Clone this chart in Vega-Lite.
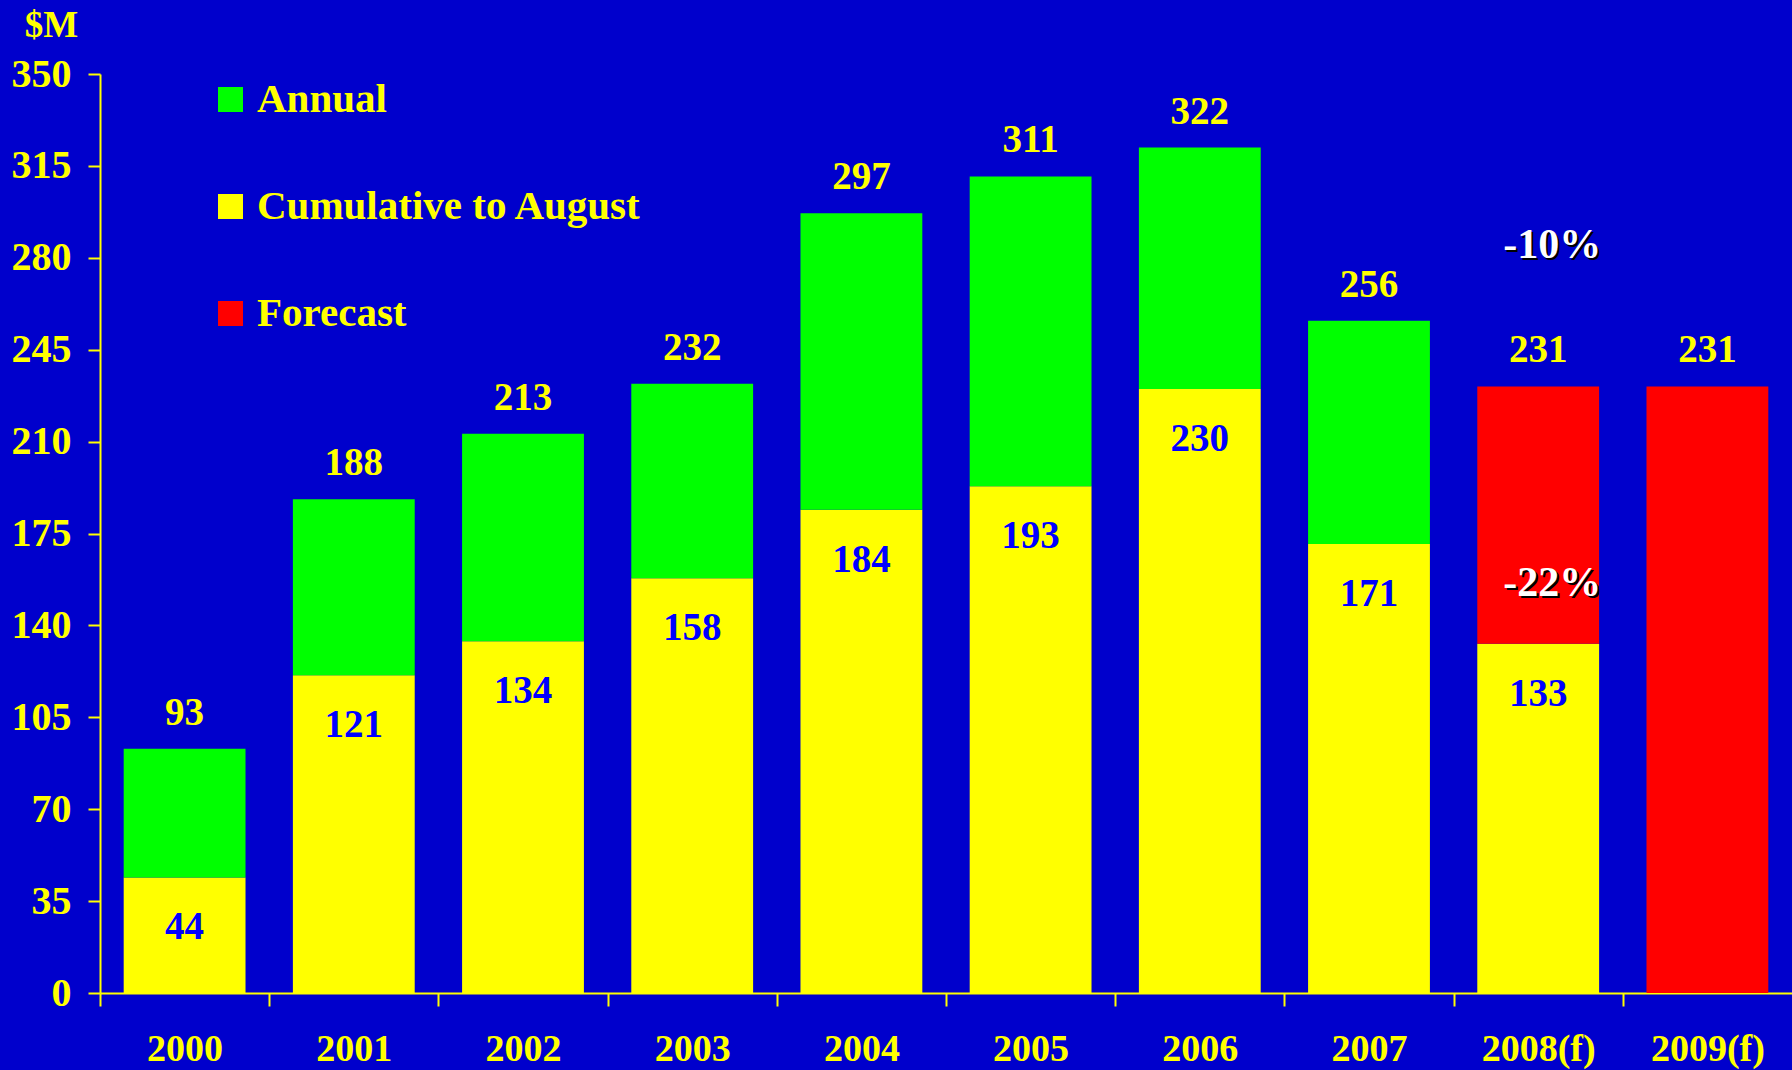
{
  "$schema": "https://vega.github.io/schema/vega-lite/v6.json",
  "width": 1692,
  "height": 919,
  "autosize": "none",
  "padding": {"left": 100, "top": 74, "right": 0, "bottom": 77},
  "background": "#0000CC",
  "config": {
    "view": {"stroke": null},
    "font": "Liberation Serif"
  },
  "datasets": {
    "bars": [
      {"year": "2000", "series": "Cumulative to August", "start": 0, "end": 44},
      {"year": "2000", "series": "Annual", "start": 44, "end": 93},
      {"year": "2001", "series": "Cumulative to August", "start": 0, "end": 121},
      {"year": "2001", "series": "Annual", "start": 121, "end": 188},
      {"year": "2002", "series": "Cumulative to August", "start": 0, "end": 134},
      {"year": "2002", "series": "Annual", "start": 134, "end": 213},
      {"year": "2003", "series": "Cumulative to August", "start": 0, "end": 158},
      {"year": "2003", "series": "Annual", "start": 158, "end": 232},
      {"year": "2004", "series": "Cumulative to August", "start": 0, "end": 184},
      {"year": "2004", "series": "Annual", "start": 184, "end": 297},
      {"year": "2005", "series": "Cumulative to August", "start": 0, "end": 193},
      {"year": "2005", "series": "Annual", "start": 193, "end": 311},
      {"year": "2006", "series": "Cumulative to August", "start": 0, "end": 230},
      {"year": "2006", "series": "Annual", "start": 230, "end": 322},
      {"year": "2007", "series": "Cumulative to August", "start": 0, "end": 171},
      {"year": "2007", "series": "Annual", "start": 171, "end": 256},
      {"year": "2008(f)", "series": "Cumulative to August", "start": 0, "end": 133},
      {"year": "2008(f)", "series": "Forecast", "start": 133, "end": 231},
      {"year": "2009(f)", "series": "Forecast", "start": 0, "end": 231}
    ],
    "totals": [
      {"year": "2000", "total": 93},
      {"year": "2001", "total": 188},
      {"year": "2002", "total": 213},
      {"year": "2003", "total": 232},
      {"year": "2004", "total": 297},
      {"year": "2005", "total": 311},
      {"year": "2006", "total": 322},
      {"year": "2007", "total": 256},
      {"year": "2008(f)", "total": 231},
      {"year": "2009(f)", "total": 231}
    ],
    "cum": [
      {"year": "2000", "value": 44},
      {"year": "2001", "value": 121},
      {"year": "2002", "value": 134},
      {"year": "2003", "value": 158},
      {"year": "2004", "value": 184},
      {"year": "2005", "value": 193},
      {"year": "2006", "value": 230},
      {"year": "2007", "value": 171},
      {"year": "2008(f)", "value": 133}
    ],
    "notes": [
      {"year": "2008(f)", "at": 285, "note": "-10%"},
      {"year": "2008(f)", "at": 156, "note": "-22%"}
    ]
  },
  "encoding": {
    "x": {
      "field": "year",
      "type": "nominal",
      "scale": {
        "domain": ["2000", "2001", "2002", "2003", "2004", "2005", "2006", "2007", "2008(f)", "2009(f)"],
        "paddingInner": 0.28,
        "paddingOuter": 0.14
      },
      "axis": {
        "title": null,
        "labelAngle": 0,
        "domainColor": "#FFFF00",
        "domainWidth": 2,
        "tickColor": "#FFFF00",
        "tickWidth": 2,
        "tickSize": 13,
        "tickOffset": -84.6,
        "labelOffset": 84.6,
        "labelColor": "#FFFF00",
        "labelFont": "Liberation Serif",
        "labelFontWeight": "bold",
        "labelFontSize": 38,
        "labelBaseline": "middle",
        "labelPadding": 43,
        "grid": false
      }
    }
  },
  "layer": [
    {
      "data": {"name": "bars"},
      "mark": {"type": "bar"},
      "encoding": {
        "y": {
          "field": "end",
          "type": "quantitative",
          "scale": {"domain": [0, 350], "nice": false},
          "axis": {
            "title": "$M",
            "titleAngle": 0,
            "titleX": -49,
            "titleY": -49,
            "titleAlign": "center",
            "titleBaseline": "middle",
            "titleColor": "#FFFF00",
            "titleFont": "Liberation Serif",
            "titleFontWeight": "bold",
            "titleFontSize": 37,
            "values": [0, 35, 70, 105, 140, 175, 210, 245, 280, 315, 350],
            "grid": false,
            "domainColor": "#FFFF00",
            "domainWidth": 2,
            "tickColor": "#FFFF00",
            "tickWidth": 2,
            "tickSize": 12,
            "labelColor": "#FFFF00",
            "labelFont": "Liberation Serif",
            "labelFontWeight": "bold",
            "labelFontSize": 40,
            "labelPadding": 17
          }
        },
        "y2": {"field": "start"},
        "color": {
          "field": "series",
          "type": "nominal",
          "scale": {
            "domain": ["Annual", "Cumulative to August", "Forecast"],
            "range": ["#00FF00", "#FFFF00", "#FF0000"]
          },
          "legend": {
            "title": null,
            "orient": "none",
            "legendX": 110,
            "legendY": 5,
            "symbolType": "square",
            "symbolSize": 625,
            "symbolStrokeWidth": 0,
            "labelColor": "#FFFF00",
            "labelFont": "Liberation Serif",
            "labelFontWeight": "bold",
            "labelFontSize": 41,
            "labelOffset": 6,
            "rowPadding": 65,
            "labelLimit": 600
          }
        }
      }
    },
    {
      "data": {"name": "totals"},
      "mark": {"type": "text", "color": "#FFFF00", "font": "Liberation Serif", "fontWeight": "bold", "fontSize": 39, "baseline": "middle", "dy": -36},
      "encoding": {
        "y": {"field": "total", "type": "quantitative"},
        "text": {"field": "total", "type": "quantitative"}
      }
    },
    {
      "data": {"name": "cum"},
      "mark": {"type": "text", "color": "#0000FF", "font": "Liberation Serif", "fontWeight": "bold", "fontSize": 39, "baseline": "middle", "dy": 50},
      "encoding": {
        "y": {"field": "value", "type": "quantitative"},
        "text": {"field": "value", "type": "quantitative"}
      }
    },
    {
      "data": {"name": "notes"},
      "mark": {"type": "text", "color": "#000000", "font": "Liberation Serif", "fontWeight": "bold", "fontSize": 42, "baseline": "middle", "dx": 16, "dy": 2},
      "encoding": {
        "y": {"field": "at", "type": "quantitative"},
        "text": {"field": "note", "type": "nominal"}
      }
    },
    {
      "data": {"name": "notes"},
      "mark": {"type": "text", "color": "#FFFFFF", "font": "Liberation Serif", "fontWeight": "bold", "fontSize": 42, "baseline": "middle", "dx": 14, "dy": 0},
      "encoding": {
        "y": {"field": "at", "type": "quantitative"},
        "text": {"field": "note", "type": "nominal"}
      }
    }
  ]
}
